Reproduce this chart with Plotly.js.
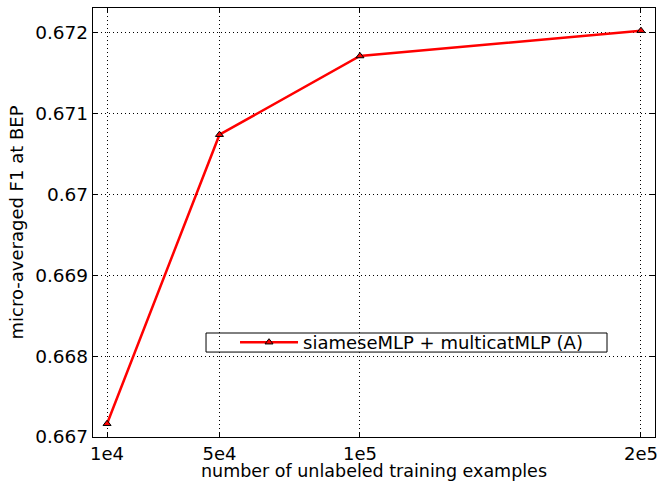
<!DOCTYPE html>
<html>
<head>
<meta charset="utf-8">
<script src="https://cdn.plot.ly/plotly-3.0.1.min.js"></script>
<style>html,body{margin:0;padding:0;background:#fff;}</style>
</head>
<body>
<div id="chart" style="width:661px;height:481px;"></div>
<script>
const examples = [10000, 50000, 100000, 200000];
const f1 = [0.667164, 0.670735, 0.671707, 0.672020];
const xTickVals = [10000, 50000, 100000, 200000];
const xTickText = ['1e4', '5e4', '1e5', '2e5'];
const yTickVals = [0.667, 0.668, 0.669, 0.670, 0.671, 0.672];
const yTickText = ['0.667', '0.668', '0.669', '0.67', '0.671', '0.672'];
const seriesName = 'siameseMLP + multicatMLP (A)';
const xTitle = 'number of unlabeled training examples';
const yTitle = 'micro-averaged F1 at BEP';

const trace = {
  x: examples, y: f1, type: 'scatter', mode: 'lines+markers', name: seriesName,
  line: {color: '#ff0000', width: 2.5},
  marker: {symbol: 'triangle-up', size: 7, color: '#ff0000', line: {color: '#000', width: 1}}
};
const axisCommon = {
  showline: true, linecolor: '#000', linewidth: 1.2, mirror: 'allticks',
  ticks: 'inside', ticklen: 5, tickcolor: '#000', tickwidth: 1,
  showgrid: true, gridcolor: '#000', griddash: '1px,3px', gridwidth: 1,
  zeroline: false, automargin: false,
  tickfont: {family: 'DejaVu Sans', size: 18, color: '#000'}
};
const layout = {
  width: 661, height: 481,
  margin: {l: 93, r: 6, t: 8, b: 44},
  paper_bgcolor: '#fff', plot_bgcolor: '#fff',
  font: {family: 'DejaVu Sans', color: '#000'},
  xaxis: Object.assign({}, axisCommon, {
    range: [5000, 205000], tickvals: xTickVals, ticktext: xTickText,
    title: {text: xTitle, font: {size: 17.5}, standoff: 3}
  }),
  yaxis: Object.assign({}, axisCommon, {
    range: [0.667, 0.6723], tickvals: yTickVals, ticktext: yTickText,
    tickfont: {family: 'DejaVu Sans', size: 18.5, color: '#000'},
    title: {text: yTitle, font: {size: 18}, standoff: 6}
  }),
  showlegend: true,
  legend: {
    x: 0.2527, y: 0.2634, xanchor: 'left', yanchor: 'top',
    bgcolor: 'rgba(0,0,0,0)', borderwidth: 0,
    font: {family: 'DejaVu Sans', size: 18, color: '#000'},
    itemwidth: 58, tracegroupgap: 0
  },
  shapes: [{
    type: 'rect', xref: 'paper', yref: 'paper',
    x0: 0.2011, x1: 0.9146, y0: 0.198, y1: 0.2424,
    line: {color: '#000', width: 1}, fillcolor: '#fff', layer: 'below'
  }]
};
Plotly.newPlot('chart', [trace], layout, {displayModeBar: false, staticPlot: true});
</script>
</body>
</html>
